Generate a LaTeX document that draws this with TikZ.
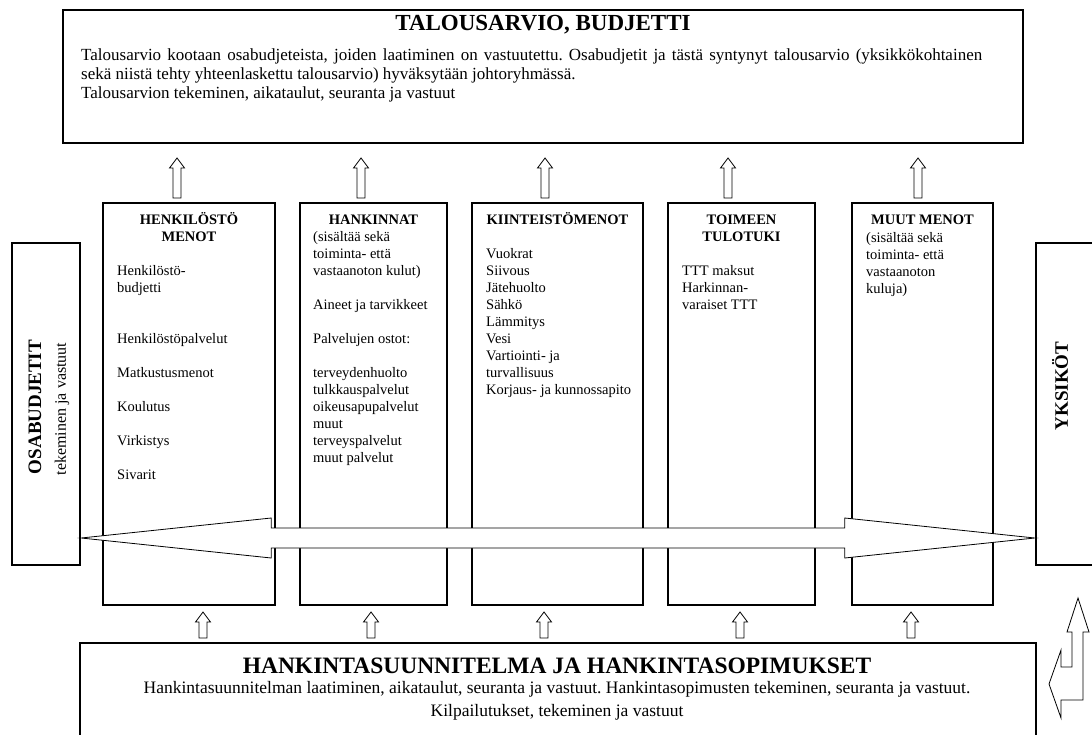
\documentclass[tikz,border=0pt]{standalone}
\usepackage{fontspec}
\setmainfont{Liberation Serif}
\usepackage{tikz}
\usetikzlibrary{calc,positioning}

\tikzset{
  panel/.style={draw, line width=2.4pt, fill=white, inner sep=0pt},
  colbox/.style={panel, minimum height=402pt},
  colhead/.style={anchor=north, align=center, inner sep=0pt, font=\fontsize{14.5}{17}\selectfont\bfseries},
  coltext/.style={anchor=north west, align=left, inner sep=0pt, font=\fontsize{14.5}{17}\selectfont},
  sidetitle/.style={rotate=90, inner sep=0pt, font=\fontsize{19}{22}\selectfont\bfseries},
  uparrow/.style={draw, line width=0.8pt, fill=white,
    to path={let \p1=(\tikztostart), \p2=(\tikztotarget) in
      (\x1-4pt,\y1) -- (\x1+4pt,\y1) -- (\x1+4pt,\y2-10pt) -- (\x1+7.5pt,\y2-10pt)
      -- (\p2) -- (\x1-7.5pt,\y2-10pt) -- (\x1-4pt,\y2-10pt) -- cycle}},
  twoway/.style={draw, line width=0.8pt, fill=white,
    to path={let \p1=(\tikztostart), \p2=(\tikztotarget) in
      (\p1) -- (\x1+190pt,\y1+20pt) -- (\x1+190pt,\y1+10pt) -- (\x2-190pt,\y2+10pt)
      -- (\x2-190pt,\y2+20pt) -- (\p2) -- (\x2-190pt,\y2-20pt) -- (\x2-190pt,\y2-10pt)
      -- (\x1+190pt,\y1-10pt) -- (\x1+190pt,\y1-20pt) -- cycle}}
}

\begin{document}
\frenchspacing
\begin{tikzpicture}[x=1pt, y=-1pt]
    \useasboundingbox (0,0) rectangle (1092,735);
    \clip (0,0) rectangle (1092,735);

    % talousarvio
    \node[panel, minimum width=960pt, minimum height=133pt] (budget) at (543,76.5) {};
    \node[anchor=base, inner sep=0pt, font=\fontsize{23}{27}\selectfont\bfseries] (budgettitle) at (543,30.5) {TALOUSARVIO, BUDJETTI};
    \node[anchor=north west, align=left, inner sep=0pt, font=\fontsize{17}{19}\selectfont] (budgettext) at (81,48.7)
        {\makebox[901pt][s]{Talousarvio kootaan osabudjeteista, joiden laatiminen on vastuutettu. Osabudjetit ja tästä syntynyt talousarvio (yksikkökohtainen}\\
         sekä niistä tehty yhteenlaskettu talousarvio) hyväksytään johtoryhmässä.\\
         Talousarvion tekeminen, aikataulut, seuranta ja vastuut};

    % sarakkeet
    \node[colbox, minimum width=172pt] (c1) at (189,404) {};
    \node[colbox, minimum width=147pt] (c2) at (373.5,404) {};
    \node[colbox, minimum width=171pt] (c3) at (557.5,404) {};
    \node[colbox, minimum width=147pt] (c4) at (741.5,404) {};
    \node[colbox, minimum width=141pt] (c5) at (922.5,404) {};

    \node[colhead] (h1) at (189,212.3) {HENKILÖSTÖ\\MENOT};
    \node[coltext] (t1) at (117,265.1) {Henkilöstö-\\budjetti};
    \node[coltext] (t1b) at (117,333.1) {Henkilöstöpalvelut\\[17pt]Matkustusmenot\\[17pt]Koulutus\\[17pt]Virkistys\\[17pt]Sivarit};

    \node[colhead] (h2) at (373.5,215) {HANKINNAT};
    \node[coltext] (t2) at (313,231) {(sisältää sekä\\toiminta- että\\vastaanoton kulut)\\[17pt]Aineet ja tarvikkeet\\[17pt]Palvelujen ostot:\\[17pt]terveydenhuolto\\tulkkauspalvelut\\oikeusapupalvelut\\muut\\terveyspalvelut\\muut palvelut};

    \node[colhead] (h3) at (557.5,212.3) {KIINTEISTÖMENOT};
    \node[coltext] (t3) at (486,248.1) {Vuokrat\\Siivous\\Jätehuolto\\Sähkö\\Lämmitys\\Vesi\\Vartiointi- ja\\turvallisuus\\Korjaus- ja kunnossapito};

    \node[colhead] (h4) at (741.5,215) {TOIMEEN\\TULOTUKI};
    \node[coltext] (t4) at (682,265.1) {TTT maksut\\Harkinnan-\\varaiset TTT};

    \node[colhead] (h5) at (922.5,215) {MUUT MENOT};
    \node[coltext] (t5) at (866,232) {(sisältää sekä\\toiminta- että\\vastaanoton\\kuluja)};

    % reunat
    \node[panel, minimum width=68pt, minimum height=322pt] (osa) at (46,404) {};
    \node[sidetitle] (osatitle) at (35,407) {OSABUDJETIT};
    \node[rotate=90, inner sep=0pt, font=\fontsize{16}{19}\selectfont] (osasub) at (62,409) {tekeminen ja vastuut};

    \node[panel, minimum width=70pt, minimum height=322pt] (yks) at (1071,404) {};
    \node[sidetitle] (ykstitle) at (1060,386) {YKSIKÖT};

    % hankinnat
    \node[panel, minimum width=956pt, minimum height=110pt] (plan) at (558,698) {};
    \node[anchor=base, inner sep=0pt, font=\fontsize{23.5}{27}\selectfont\bfseries] (plantitle) at (557,673.6) {HANKINTASUUNNITELMA JA HANKINTASOPIMUKSET};
    \node[anchor=north, align=center, inner sep=0pt, font=\fontsize{17.5}{23}\selectfont] (plantext) at (557,681)
        {Hankintasuunnitelman laatiminen, aikataulut, seuranta ja vastuut. Hankintasopimusten tekeminen, seuranta ja vastuut.\\
         Kilpailutukset, tekeminen ja vastuut};

    % nuolet
    \foreach \ax [count=\i] in {177,361,545,728,918} {
        \coordinate (up\i) at (\ax,198);
        \coordinate (in\i) at (\ax,158);
        \draw[uparrow] (up\i) to (in\i);
    }
    \foreach \ax [count=\i] in {203,371,544,740,911} {
        \coordinate (pl\i) at (\ax,638);
        \coordinate (co\i) at (\ax,612);
        \draw[uparrow] (pl\i) to (co\i);
    }

    \coordinate (bl) at (osa.east |- 0,538);
    \coordinate (br) at (yks.west |- 0,538);
    \draw[twoway] (bl) to (br);

    \draw[line width=0.8pt, fill=white] (1078,598) -- (1089,632) -- (1083,632) -- (1083,700) -- (1061,700)
        -- (1061,718) -- (1049,684) -- (1061,650) -- (1061,667) -- (1072,667) -- (1072,632) -- (1067,632) -- cycle;
\end{tikzpicture}
\end{document}
